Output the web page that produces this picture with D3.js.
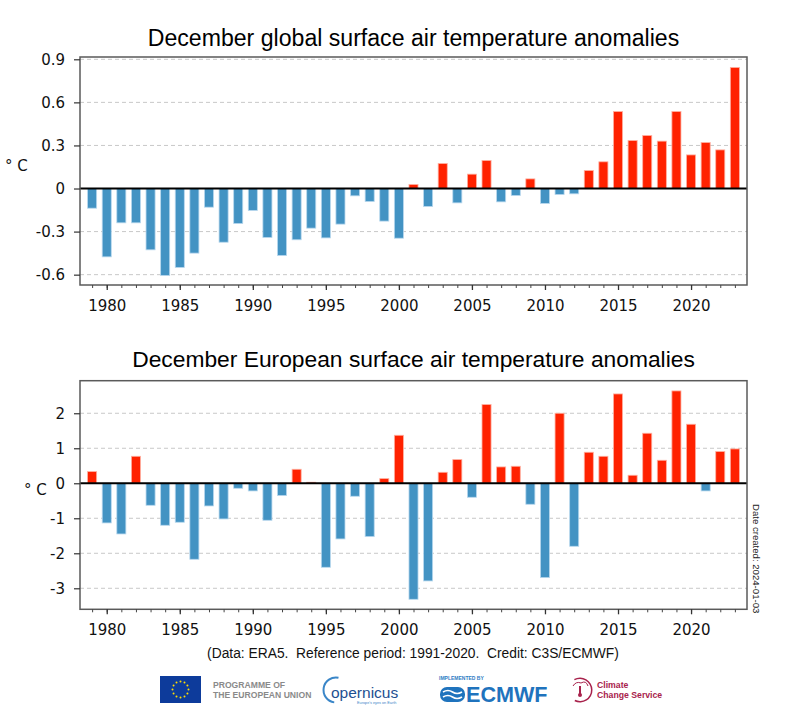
<!DOCTYPE html>
<html>
<head>
<meta charset="utf-8">
<script src="https://cdn.jsdelivr.net/npm/d3@7"></script>
<style>
  html, body { margin: 0; padding: 0; background: #fff; }
  svg { display: block; }
</style>
</head>
<body>
<svg id="chart" width="800" height="724"></svg>
<script>
// ---------------- DATA ----------------
const years = [1979,1980,1981,1982,1983,1984,1985,1986,1987,1988,1989,1990,1991,1992,1993,1994,1995,1996,1997,1998,1999,2000,2001,2002,2003,2004,2005,2006,2007,2008,2009,2010,2011,2012,2013,2014,2015,2016,2017,2018,2019,2020,2021,2022,2023];

const globalAnom = [-0.137,-0.476,-0.239,-0.239,-0.427,-0.606,-0.550,-0.450,-0.130,-0.374,-0.244,-0.153,-0.341,-0.467,-0.357,-0.276,-0.344,-0.248,-0.051,-0.091,-0.227,-0.346,0.028,-0.125,0.174,-0.100,0.100,0.195,-0.093,-0.049,0.067,-0.104,-0.042,-0.037,0.125,0.186,0.536,0.334,0.369,0.330,0.536,0.234,0.320,0.269,0.843];

const europeAnom = [0.333,-1.133,-1.448,0.771,-0.629,-1.200,-1.114,-2.171,-0.648,-1.019,-0.143,-0.219,-1.057,-0.352,0.400,0.030,-2.400,-1.590,-0.371,-1.524,0.133,1.371,-3.314,-2.790,0.314,0.676,-0.400,2.248,0.467,0.486,-0.600,-2.695,2.000,-1.800,0.886,0.771,2.552,0.229,1.429,0.657,2.638,1.686,-0.219,0.905,0.981];

const xTickYears = [1980,1985,1990,1995,2000,2005,2010,2015,2020];
const globalTicks = [-0.6,-0.3,0,0.3,0.6,0.9];
const globalTickLabels = ["-0.6","-0.3","0","0.3","0.6","0.9"];
const europeTicks = [-3,-2,-1,0,1,2];
const europeTickLabels = ["-3","-2","-1","0","1","2"];

const titles = ["December global surface air temperature anomalies",
                "December European surface air temperature anomalies"];
const footerText = "(Data: ERA5.  Reference period: 1991-2020.  Credit: C3S/ECMWF)";
const dateText = "Date created: 2024-01-03";

// ---------------- STYLE ----------------
const BLUE = "#4393c3", RED = "#ff2200";
const svg = d3.select("#chart");

const left = 80, right = 747;
const x = d3.scaleLinear().domain([1978.17, 2023.83]).range([left, right]);
const barW = (x(1) - x(0)) * 0.62;

function panel(cfg) {
  const g = svg.append("g");
  const y = d3.scaleLinear().domain(cfg.domain).range([cfg.bottom, cfg.top]);

  g.append("text").attr("x", (left + right) / 2).attr("y", cfg.titleY)
    .attr("text-anchor", "middle")
    .style("font-family", "'Liberation Sans', Arial, sans-serif")
    .style("font-size", cfg.titleSize + "px").attr("fill", "#000")
    .text(cfg.title);

  g.selectAll(".grid").data(cfg.ticks.filter(d => d !== 0)).enter()
    .append("line")
    .attr("x1", left).attr("x2", right)
    .attr("y1", d => y(d)).attr("y2", d => y(d))
    .attr("stroke", "#c8c8c8").attr("stroke-width", 1)
    .attr("stroke-dasharray", "4,3");

  g.selectAll(".bar").data(years.map((yr, i) => ({yr, v: cfg.values[i]}))).enter()
    .append("rect")
    .attr("x", d => x(d.yr) - barW / 2)
    .attr("width", barW)
    .attr("y", d => y(Math.max(0, d.v)))
    .attr("height", d => Math.abs(y(d.v) - y(0)))
    .attr("fill", d => d.v >= 0 ? RED : BLUE)
    .attr("stroke", d => d.v >= 0 ? "#ffb0a0" : "#b8d8ee")
    .attr("stroke-width", 0.8);

  g.append("line").attr("x1", left).attr("x2", right)
    .attr("y1", y(0)).attr("y2", y(0))
    .attr("stroke", "#000").attr("stroke-width", 2);

  g.append("rect").attr("x", left).attr("y", cfg.top)
    .attr("width", right - left).attr("height", cfg.bottom - cfg.top)
    .attr("fill", "none").attr("stroke", "#5a5a5a").attr("stroke-width", 1.5);

  const yAxis = d3.axisLeft(y).tickValues(cfg.ticks)
    .tickFormat((d, i) => cfg.tickLabels[i]).tickSize(6).tickPadding(9);
  const ya = g.append("g").attr("transform", `translate(${left},0)`).call(yAxis);
  ya.select(".domain").remove();
  ya.selectAll("line").attr("stroke", "#333").attr("stroke-width", 1.2);
  ya.selectAll("text").style("font-family", "'DejaVu Sans', sans-serif")
    .style("font-size", "15px").attr("fill", "#111");

  const xMinor = d3.axisBottom(x).tickValues(years).tickFormat("").tickSize(3);
  const xm = g.append("g").attr("transform", `translate(0,${cfg.bottom})`).call(xMinor);
  xm.select(".domain").remove();
  xm.selectAll("line").attr("stroke", "#444").attr("stroke-width", 1);
  const xAxis = d3.axisBottom(x).tickValues(xTickYears).tickFormat(d3.format("d"))
    .tickSize(5).tickPadding(10);
  const xa = g.append("g").attr("transform", `translate(0,${cfg.bottom})`).call(xAxis);
  xa.select(".domain").remove();
  xa.selectAll("line").attr("stroke", "#333").attr("stroke-width", 1.3);
  xa.selectAll("text").style("font-family", "'DejaVu Sans', sans-serif")
    .style("font-size", "15px").attr("fill", "#111");

  g.append("text").attr("x", cfg.ylabelX).attr("y", (cfg.top + cfg.bottom) / 2)
    .style("font-family", "'DejaVu Sans', sans-serif")
    .style("font-size", "15px").attr("fill", "#111")
    .text("° C");
  return y;
}

panel({title: titles[0], titleY: 45.5, titleSize: 23.1, values: globalAnom,
       domain: [-0.672, 0.916], top: 57, bottom: 285,
       ticks: globalTicks, tickLabels: globalTickLabels, ylabelX: 5});
panel({title: titles[1], titleY: 366.5, titleSize: 22.8, values: europeAnom,
       domain: [-3.6, 2.93], top: 380.7, bottom: 609.3,
       ticks: europeTicks, tickLabels: europeTickLabels, ylabelX: 24});

svg.append("text")
  .attr("transform", "translate(753,504) rotate(90)")
  .style("font-family", "'Liberation Sans', Arial, sans-serif")
  .style("font-size", "9.6px").attr("fill", "#222")
  .text(dateText);

svg.append("text").attr("x", 413).attr("y", 658).attr("text-anchor", "middle")
  .style("font-family", "'Liberation Sans', Arial, sans-serif")
  .style("font-size", "13.8px").style("white-space", "pre").attr("fill", "#111")
  .text(footerText);

// ---------------- LOGOS ----------------
const logos = svg.append("g");
logos.append("rect").attr("x", 160).attr("y", 676).attr("width", 41).attr("height", 27).attr("fill", "#0d3b9b");
const starAngles = [0,30,60,90,120,150,180,210,240,270,300,330];
logos.selectAll(".star").data(starAngles).enter().append("circle")
  .attr("cx", a => 180.5 + 8 * Math.cos(a * Math.PI / 180))
  .attr("cy", a => 689.5 + 8 * Math.sin(a * Math.PI / 180))
  .attr("r", 1).attr("fill", "#ffdd00");
const euText = logos.append("text")
  .style("font-family", "'Liberation Sans', Arial, sans-serif")
  .style("font-size", "8.6px").style("font-weight", "bold").attr("fill", "#8a8a8a");
euText.append("tspan").attr("x", 213).attr("y", 688).text("PROGRAMME OF");
euText.append("tspan").attr("x", 213).attr("y", 698).text("THE EUROPEAN UNION");

logos.append("path")
  .attr("d", d3.arc()({innerRadius: 11.5, outerRadius: 13.5, startAngle: -3.0, endAngle: 0.2}))
  .attr("transform", "translate(336,690)")
  .attr("fill", "#3a86c8");
logos.append("text").attr("x", 331).attr("y", 698)
  .style("font-family", "'Liberation Sans', Arial, sans-serif")
  .style("font-size", "15.5px").attr("fill", "#1d4f91")
  .text("opernicus");
logos.append("text").attr("x", 357).attr("y", 704)
  .style("font-family", "'Liberation Sans', Arial, sans-serif")
  .style("font-size", "3.8px").attr("fill", "#3a86c8")
  .text("Europe's eyes on Earth");

logos.append("text").attr("x", 439).attr("y", 680)
  .style("font-family", "'Liberation Sans', Arial, sans-serif")
  .style("font-size", "5px").style("font-weight", "bold").attr("fill", "#2e7cc4")
  .text("IMPLEMENTED BY");
const ec = logos.append("g").attr("transform", "translate(440,687)");
ec.append("rect").attr("x", 0).attr("y", 0).attr("width", 25).attr("height", 15).attr("rx", 7).attr("fill", "#1f73bd");
ec.append("path").attr("d", "M3,5 Q8,2 12.5,5 Q17,8 22,5 M3,10 Q8,7 12.5,10 Q17,13 22,10")
  .attr("fill", "none").attr("stroke", "#fff").attr("stroke-width", 1.6);
logos.append("text").attr("x", 466).attr("y", 702)
  .style("font-family", "'Liberation Sans', Arial, sans-serif")
  .style("font-size", "21.6px").style("font-weight", "bold").attr("fill", "#1f73bd")
  .text("ECMWF");

logos.append("path")
  .attr("d", d3.arc()({innerRadius: 11, outerRadius: 12.5, startAngle: -0.5, endAngle: 3.6}))
  .attr("transform", "translate(580,690)")
  .attr("fill", "#a8224c");
logos.append("path").attr("d", "M573,686 Q576,681 581,683 Q586,680 588,686")
  .attr("fill", "none").attr("stroke", "#a8224c").attr("stroke-width", 1);
logos.append("rect").attr("x", 579).attr("y", 686).attr("width", 2).attr("height", 8).attr("fill", "#a8224c");
logos.append("circle").attr("cx", 580).attr("cy", 695).attr("r", 2).attr("fill", "#a8224c");
const ccs = logos.append("text")
  .style("font-family", "'Liberation Sans', Arial, sans-serif")
  .style("font-size", "8.7px").style("font-weight", "bold").attr("fill", "#a8224c");
ccs.append("tspan").attr("x", 597).attr("y", 688).text("Climate");
ccs.append("tspan").attr("x", 597).attr("y", 698).text("Change Service");
</script>
</body>
</html>
